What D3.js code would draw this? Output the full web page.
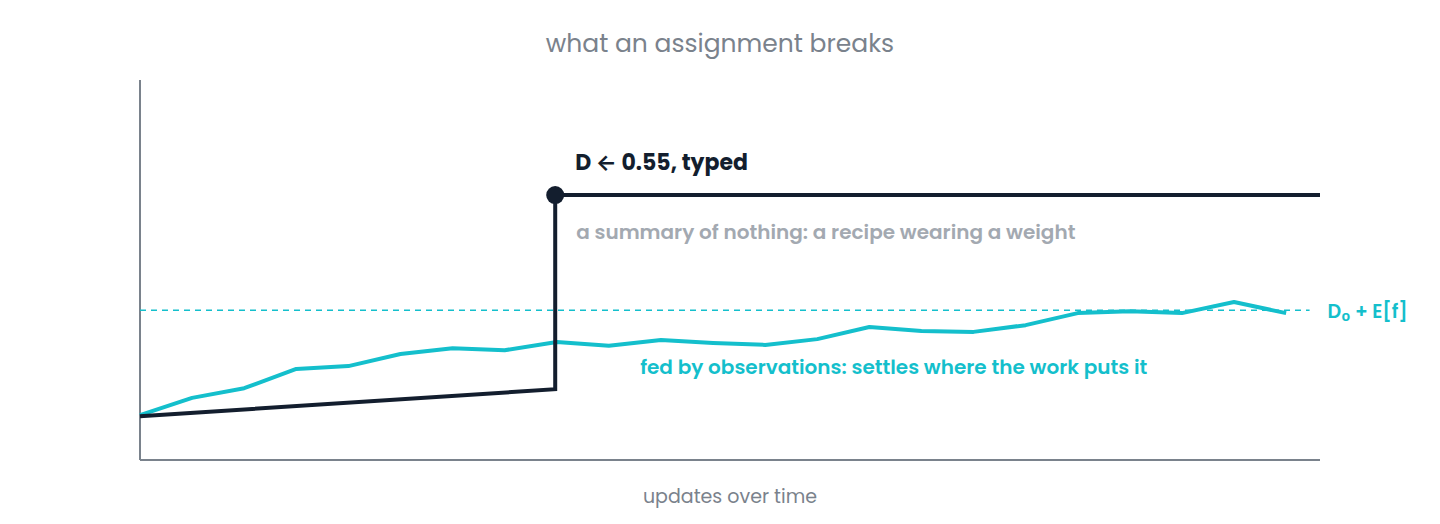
<!DOCTYPE html>
<html><head><meta charset="utf-8">
<script src="https://cdn.jsdelivr.net/npm/d3@7"></script>
<style>body{margin:0;background:#fff}text{font-family:Poppins,Inter,"Noto Sans",sans-serif}</style>
</head><body><svg id="chart"></svg>
<script>
// observed (fed by work) series, one value per update
const observed = [0.093,0.129,0.149,0.189,0.195,0.220,0.232,0.228,0.245,0.237,0.249,0.243,
  0.239,0.251,0.276,0.268,0.266,0.280,0.305,0.309,0.305,0.328,0.305];
// typed assignment: drift, then jump to D
const typed = [{t:0,v:0.091},{t:7.97,v:0.147},{t:7.97,v:0.55},{t:22.65,v:0.55}];
const baseline = 0.311;
const assignT = 7.97, assignV = 0.55;

const W = 1440, H = 524, m = {top:80,right:120,bottom:64,left:140};
const svg = d3.select('#chart').attr('width',W).attr('height',H);
const x = d3.scaleLinear().domain([0,22.65]).range([m.left, W-m.right]);
const y = d3.scaleLinear().domain([0,0.789]).range([H-m.bottom, m.top]);
const teal = '#14bfcc', dark = '#131e2e', grey = '#7a828c';

svg.append('text').attr('x',720).attr('y',52).attr('text-anchor','middle')
  .attr('font-size',25).attr('fill',grey).text('what an assignment breaks');
svg.append('text').attr('x',730).attr('y',503).attr('text-anchor','middle')
  .attr('font-size',19).attr('fill',grey).text('updates over time');

// axes
svg.append('line').attr('x1',x(0)).attr('x2',x(0)).attr('y1',y.range()[1]).attr('y2',y(0))
  .attr('stroke',grey).attr('stroke-width',2);
svg.append('line').attr('x1',x(0)).attr('x2',x.range()[1]).attr('y1',y(0)).attr('y2',y(0))
  .attr('stroke',grey).attr('stroke-width',2);

// baseline
svg.append('line').attr('x1',x(0)).attr('x2',x(22.45)).attr('y1',y(baseline)).attr('y2',y(baseline))
  .attr('stroke',teal).attr('stroke-width',1.5).attr('stroke-dasharray','6,5');
svg.append('text').attr('x',x(22.45)+18).attr('y',y(baseline)+8).attr('font-size',19)
  .attr('font-weight',600).attr('fill',teal).text('D₀ + E[f]');

const line = d3.line().x(d=>x(d.t)).y(d=>y(d.v));
svg.append('path').datum(observed.map((v,i)=>({t:i,v})))
  .attr('d',line).attr('fill','none').attr('stroke',teal).attr('stroke-width',4)
  .attr('stroke-linejoin','round');
svg.append('path').datum(typed).attr('d',line).attr('fill','none')
  .attr('stroke',dark).attr('stroke-width',4);
svg.append('circle').attr('cx',x(assignT)).attr('cy',y(assignV)).attr('r',9).attr('fill',dark);

svg.append('text').attr('x',x(assignT)+20).attr('y',y(assignV)-25).attr('font-size',22)
  .attr('font-weight',700).attr('fill',dark).text('D ← 0.55, typed');
svg.append('text').attr('x',x(assignT)+21).attr('y',y(assignV)+44).attr('font-size',20)
  .attr('font-weight',600).attr('fill','#a3a9b1').text('a summary of nothing: a recipe wearing a weight');
svg.append('text').attr('x',x(9.6)).attr('y',y(0.2)+10).attr('font-size',20)
  .attr('font-weight',600).attr('fill',teal).text('fed by observations: settles where the work puts it');
</script></body></html>
